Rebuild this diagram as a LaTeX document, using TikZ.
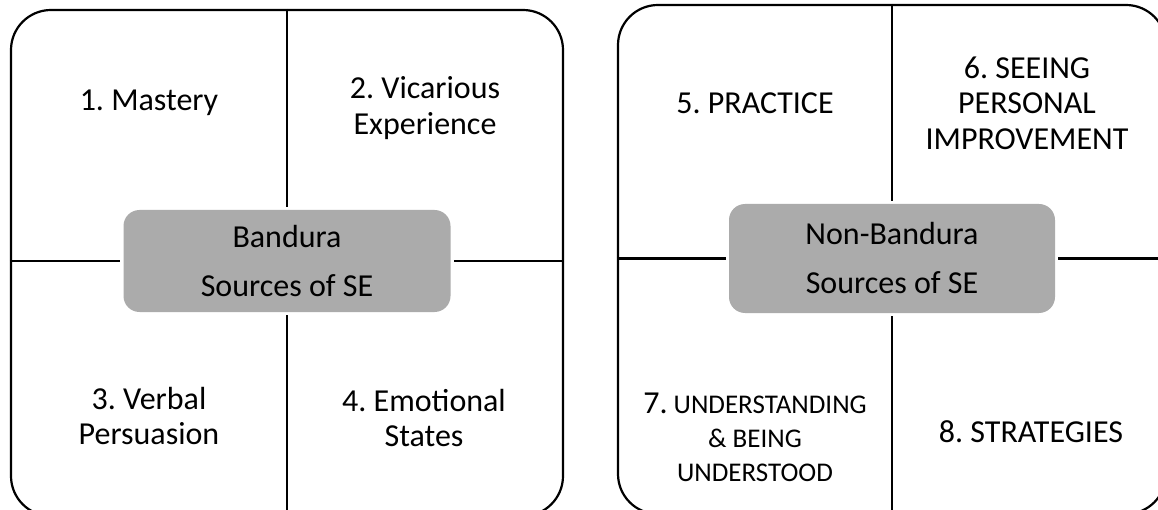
\documentclass[tikz,border=0pt]{standalone}
\usepackage{fontspec}
\setmainfont{Carlito}
\usepackage{tikz}
\usetikzlibrary{positioning}

\definecolor{coregray}{RGB}{171,171,171}
\frenchspacing

\begin{document}
\begin{tikzpicture}[
        x=1pt, y=-1pt,
        frame/.style={rectangle, draw, line width=2.2pt, rounded corners=40pt, inner sep=0pt},
        core/.style={rectangle, fill=coregray, rounded corners=16pt, align=center, minimum width=327pt, inner sep=0pt,
            font=\fontsize{32}{49}\selectfont},
        label/.style={align=center, inner sep=0pt, font=\fontsize{32}{35.5}\selectfont},
        divider/.style={line width=2.2pt, shorten >=3pt}
    ]
        \useasboundingbox (0,0) rectangle (1158,510);
        \clip (0,0) rectangle (1158,510);

        % Bandura side
        \node[frame, minimum width=552pt, minimum height=506pt] (lbox) at (287,263) {};
        \node[core, minimum height=102pt] (lcore) at (287,261) {Bandura\\Sources of SE};
        \draw[divider] (lbox.north -| lcore.center) -- (lcore.north);
        \draw[divider] (lbox.south -| lcore.center) -- (lcore.south);
        \draw[divider] (lbox.west |- lcore.center) -- (lcore.west);
        \draw[divider] (lbox.east |- lcore.center) -- (lcore.east);

        \node[label] (mastery) at (149,103) {1. Mastery};
        \node[label] (vicarious) at (425,108) {2. Vicarious\\Experience};
        \node[label] (verbal) at (149,416) {3. Verbal\\Persuasion};
        \node[label] (emotional) at (424,418) {4. Emotional\\States};

        % Non-Bandura side
        \node[frame, minimum width=548pt, minimum height=509pt] (rbox) at (892,259.5) {};
        \node[core, minimum width=326pt, minimum height=109pt] (rcore) at (892,258.5) {Non-Bandura\\Sources of SE};
        \draw[divider] (rbox.north -| rcore.center) -- (rcore.north);
        \draw[divider] (rbox.south -| rcore.center) -- (rcore.south);
        \draw[divider] (rbox.west |- rcore.center) -- (rcore.west);
        \draw[divider] (rbox.east |- rcore.center) -- (rcore.east);

        \node[label] (practice) at (755,103) {5. PRACTICE};
        \node[label] (seeing) at (1027,103) {6. SEEING\\PERSONAL\\IMPROVEMENT};
        \node[label, font=\fontsize{27}{34}\selectfont] (understanding) at (755,437)
            {{\fontsize{32}{34}\selectfont 7.} UNDERSTANDING\\\& BEING\\UNDERSTOOD};
        \node[label] (strategies) at (1031,432) {8. STRATEGIES};
    \end{tikzpicture}
\end{document}
